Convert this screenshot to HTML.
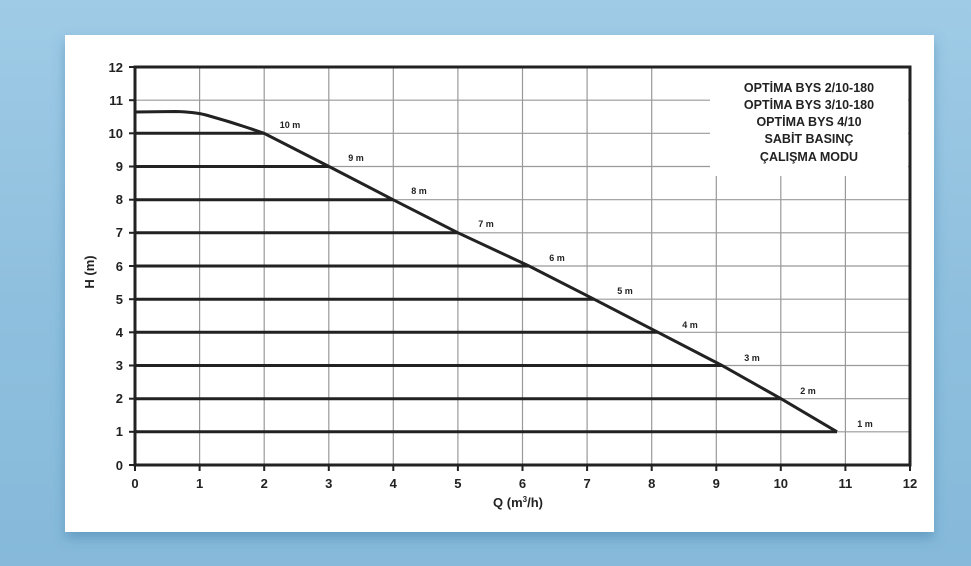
<!DOCTYPE html>
<html><head><style>
body{margin:0;width:971px;height:566px;overflow:hidden;background:linear-gradient(180deg,#9fcbe6 0%,#8fc0de 50%,#86b9da 100%);}
svg{position:absolute;left:0;top:0}
text{font-family:"Liberation Sans",sans-serif;font-weight:bold;fill:#222}
</style></head><body>
<svg width="971" height="566" viewBox="0 0 971 566">
<defs><filter id="sh" x="-5%" y="-5%" width="110%" height="115%"><feDropShadow dx="0" dy="6" stdDeviation="6" flood-color="#3a7fa8" flood-opacity="0.5"/></filter></defs>
<rect x="65" y="35" width="869" height="497" fill="#fff" filter="url(#sh)"/>
<g stroke="#999" stroke-width="1.2">
<line x1="199.6" y1="67" x2="199.6" y2="465"/><line x1="264.2" y1="67" x2="264.2" y2="465"/><line x1="328.8" y1="67" x2="328.8" y2="465"/><line x1="393.3" y1="67" x2="393.3" y2="465"/><line x1="457.9" y1="67" x2="457.9" y2="465"/><line x1="522.5" y1="67" x2="522.5" y2="465"/><line x1="587.1" y1="67" x2="587.1" y2="465"/><line x1="651.7" y1="67" x2="651.7" y2="465"/><line x1="716.3" y1="67" x2="716.3" y2="465"/><line x1="780.8" y1="67" x2="780.8" y2="465"/><line x1="845.4" y1="67" x2="845.4" y2="465"/>
<line x1="135" y1="100.2" x2="910" y2="100.2"/><line x1="135" y1="133.3" x2="910" y2="133.3"/><line x1="135" y1="166.5" x2="910" y2="166.5"/><line x1="135" y1="199.7" x2="910" y2="199.7"/><line x1="135" y1="232.8" x2="910" y2="232.8"/><line x1="135" y1="266" x2="910" y2="266"/><line x1="135" y1="299.2" x2="910" y2="299.2"/><line x1="135" y1="332.3" x2="910" y2="332.3"/><line x1="135" y1="365.5" x2="910" y2="365.5"/><line x1="135" y1="398.7" x2="910" y2="398.7"/><line x1="135" y1="431.8" x2="910" y2="431.8"/>
</g>
<rect x="710" y="68" width="198" height="108" fill="#fff"/>
<g stroke="#222" stroke-width="3" fill="none">
<line x1="135" y1="133.3" x2="264" y2="133.3"/><line x1="135" y1="166.5" x2="329" y2="166.5"/><line x1="135" y1="199.7" x2="393" y2="199.7"/><line x1="135" y1="232.8" x2="458" y2="232.8"/><line x1="135" y1="266" x2="529" y2="266"/><line x1="135" y1="299.2" x2="594" y2="299.2"/><line x1="135" y1="332.3" x2="658" y2="332.3"/><line x1="135" y1="365.5" x2="722" y2="365.5"/><line x1="135" y1="398.7" x2="781" y2="398.7"/><line x1="135" y1="431.8" x2="837" y2="431.8"/>
<path d="M135 112 L175 111.5 Q195 112 206 115 Q235 123 264 133.3 L329 166.5 L393 199.7 L458 232.8 L529 266 L594 299.2 L658 332.3 L722 365.5 L781 398.7 L837 431.8"/>
<rect x="135" y="67" width="775" height="398" stroke-width="3"/>
</g>
<g stroke="#222" stroke-width="2">
<line x1="129" y1="67" x2="135" y2="67"/><line x1="129" y1="100.2" x2="135" y2="100.2"/><line x1="129" y1="133.3" x2="135" y2="133.3"/><line x1="129" y1="166.5" x2="135" y2="166.5"/><line x1="129" y1="199.7" x2="135" y2="199.7"/><line x1="129" y1="232.8" x2="135" y2="232.8"/><line x1="129" y1="266" x2="135" y2="266"/><line x1="129" y1="299.2" x2="135" y2="299.2"/><line x1="129" y1="332.3" x2="135" y2="332.3"/><line x1="129" y1="365.5" x2="135" y2="365.5"/><line x1="129" y1="398.7" x2="135" y2="398.7"/><line x1="129" y1="431.8" x2="135" y2="431.8"/><line x1="129" y1="465" x2="135" y2="465"/>
<line x1="135" y1="465" x2="135" y2="471"/><line x1="199.6" y1="465" x2="199.6" y2="471"/><line x1="264.2" y1="465" x2="264.2" y2="471"/><line x1="328.8" y1="465" x2="328.8" y2="471"/><line x1="393.3" y1="465" x2="393.3" y2="471"/><line x1="457.9" y1="465" x2="457.9" y2="471"/><line x1="522.5" y1="465" x2="522.5" y2="471"/><line x1="587.1" y1="465" x2="587.1" y2="471"/><line x1="651.7" y1="465" x2="651.7" y2="471"/><line x1="716.3" y1="465" x2="716.3" y2="471"/><line x1="780.8" y1="465" x2="780.8" y2="471"/><line x1="845.4" y1="465" x2="845.4" y2="471"/><line x1="910" y1="465" x2="910" y2="471"/>
</g>
<g font-size="13" text-anchor="end">
<text x="123" y="72">12</text><text x="123" y="105">11</text><text x="123" y="138">10</text><text x="123" y="171">9</text><text x="123" y="204">8</text><text x="123" y="237">7</text><text x="123" y="271">6</text><text x="123" y="304">5</text><text x="123" y="337">4</text><text x="123" y="370">3</text><text x="123" y="403">2</text><text x="123" y="436">1</text><text x="123" y="470">0</text>
</g>
<g font-size="13" text-anchor="middle">
<text x="135" y="488">0</text><text x="199.6" y="488">1</text><text x="264.2" y="488">2</text><text x="328.8" y="488">3</text><text x="393.3" y="488">4</text><text x="457.9" y="488">5</text><text x="522.5" y="488">6</text><text x="587.1" y="488">7</text><text x="651.7" y="488">8</text><text x="716.3" y="488">9</text><text x="780.8" y="488">10</text><text x="845.4" y="488">11</text><text x="910" y="488">12</text>
<text x="518" y="507" font-size="13">Q (m<tspan font-size="8" dy="-5">3</tspan><tspan dy="5">/h)</tspan></text>
<text transform="translate(94,272) rotate(-90)" font-size="13">H (m)</text>
</g>
<g font-size="9" text-anchor="middle">
<text x="290" y="128">10 m</text><text x="356" y="161">9 m</text><text x="419" y="194">8 m</text><text x="486" y="227">7 m</text><text x="557" y="261">6 m</text><text x="625" y="294">5 m</text><text x="690" y="328">4 m</text><text x="752" y="361">3 m</text><text x="808" y="394">2 m</text><text x="865" y="427">1 m</text>
</g>
<g font-size="12.5" text-anchor="middle">
<text x="809" y="92">OPTİMA BYS 2/10-180</text><text x="809" y="109">OPTİMA BYS 3/10-180</text><text x="809" y="126">OPTİMA BYS 4/10</text><text x="809" y="143">SABİT BASINÇ</text><text x="809" y="161">ÇALIŞMA MODU</text>
</g>
</svg>
</body></html>
